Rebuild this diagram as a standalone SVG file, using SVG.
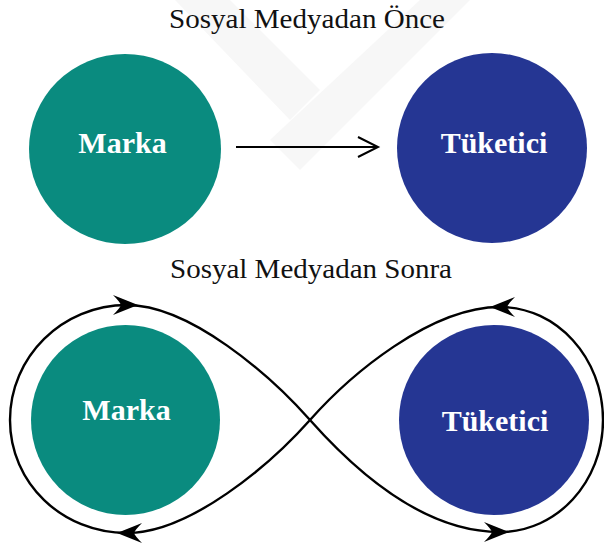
<svg xmlns="http://www.w3.org/2000/svg" width="604" height="549" viewBox="0 0 604 549">
  <defs>
    <style>
      .title { font-family: "Liberation Serif", "Times New Roman", serif; font-size: 27px; fill: #111; }
      .lbl { font-family: "Liberation Serif", "Times New Roman", serif; font-size: 30px; font-weight: bold; fill: #ffffff; text-anchor: middle; }
      .teal { fill: #0a8b7f; }
      .blue { fill: #253693; }
      .conn { fill: none; stroke: #000; stroke-width: 2.4; }
      .wm { fill: #f7f7f7; }
    </style>
    <path id="ah" d="M0,0 L-25,-10 Q-18,-3 -17,0 Q-18,3 -25,10 Z" fill="#000"/>
  </defs>
  <rect width="604" height="549" fill="#ffffff"/>
  <g id="watermark">
    <polygon class="wm" points="175,0 230,0 320,90 290,120"/>
    <polygon class="wm" points="420,0 470,0 300,170 270,140"/>
  </g>
  <text class="title" x="169" y="28" textLength="276" lengthAdjust="spacingAndGlyphs">Sosyal Medyadan Önce</text>
  <text class="title" x="170" y="278" textLength="282" lengthAdjust="spacingAndGlyphs">Sosyal Medyadan Sonra</text>
  <g id="marka-top">
    <ellipse class="teal" cx="125" cy="149" rx="96" ry="95"/>
    <text class="lbl" x="122.5" y="153">Marka</text>
  </g>
  <g id="tuketici-top">
    <ellipse class="blue" cx="492" cy="148" rx="95" ry="95"/>
    <text class="lbl" x="494" y="153">Tüketici</text>
  </g>
  <g id="marka-bottom">
    <ellipse class="teal" cx="125.5" cy="420" rx="94.5" ry="95"/>
    <text class="lbl" x="126.5" y="420">Marka</text>
  </g>
  <g id="tuketici-bottom">
    <ellipse class="blue" cx="494" cy="420" rx="95" ry="95"/>
    <text class="lbl" x="495" y="431">Tüketici</text>
  </g>
  <g id="connectors">
    <line x1="236" y1="147" x2="377" y2="147" stroke="#000" stroke-width="2"/>
    <polyline points="358,137 378,147 358,157" fill="none" stroke="#000" stroke-width="2"/>
    <path class="conn" d="M127,305 C190,305 270,375 310,420 C350,465 420,532 500,532 C557,532 603,482 603,420 C603,358 557,307 500,307 C430,307 350,375 310,420 C270,465 190,533 127,533 C62,533 10,483 10,420 C10,357 62,305 127,305 Z"/>
    <use href="#ah" transform="translate(138,305)"/>
    <use href="#ah" transform="translate(117,533) rotate(180)"/>
    <use href="#ah" transform="translate(490,307) rotate(180)"/>
    <use href="#ah" transform="translate(509,532)"/>
  </g>
</svg>
